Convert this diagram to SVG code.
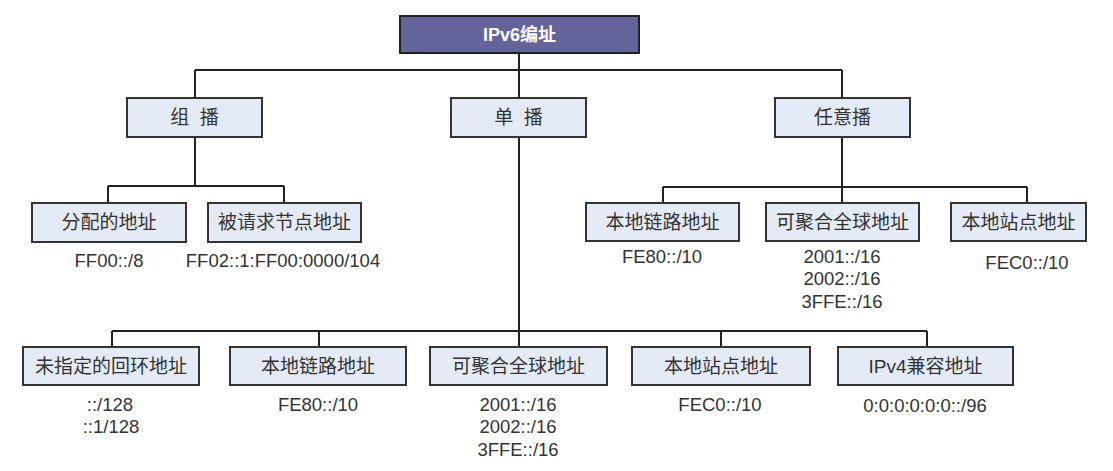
<svg xmlns="http://www.w3.org/2000/svg" width="1113" height="471" viewBox="0 0 1113 471">
<style>
.bg{fill:#ffffff}
.box{fill:#e5ebf6;stroke:#333333;stroke-width:2}
.root{fill:#64649a;stroke:#222222;stroke-width:2}
.lbl{font-family:"Liberation Sans","Noto Sans CJK SC",sans-serif;font-size:19px;fill:#333333;text-anchor:middle}
.rl{font-family:"Liberation Sans","Noto Sans CJK SC",sans-serif;font-size:18px;font-weight:bold;fill:#ffffff;text-anchor:middle}
.addr{font-family:"Liberation Sans","Noto Sans CJK SC",sans-serif;font-size:18.5px;fill:#333333;text-anchor:middle}
.ln{fill:none;stroke:#222222;stroke-width:2}
</style>
<rect class="bg" x="0" y="0" width="1113" height="471"/>
<g id="connectors">
<path class="ln" d="M519 53V70M195 70H842M195 70V98M519 70V98M842 70V98"/>
<path class="ln" d="M195 137V186M108 186H284M108 186V203M284 186V203"/>
<path class="ln" d="M842 137V187M663 187H1027M663 187V203M842 187V203M1027 187V203"/>
<path class="ln" d="M519 137V347M112 331H927M112 331V347M319 331V347M721 331V347M927 331V347"/>
</g>
<g id="root"><rect class="root" x="400" y="16" width="239" height="37"/><text class="rl" x="519.5" y="41">IPv6编址</text></g>
<g id="multicast"><rect class="box" x="127" y="98" width="135" height="39"/><text class="lbl" x="194.5" y="124" word-spacing="5">组 播</text></g>
<g id="unicast"><rect class="box" x="451" y="98" width="135" height="39"/><text class="lbl" x="518.5" y="124" word-spacing="5">单 播</text></g>
<g id="anycast"><rect class="box" x="775" y="98" width="135" height="39"/><text class="lbl" x="842.5" y="124">任意播</text></g>
<g id="mc-assigned"><rect class="box" x="32" y="203" width="154" height="39"/><text class="lbl" x="109" y="229">分配的地址</text><text class="addr" x="109" y="267">FF00::/8</text></g>
<g id="mc-solicited"><rect class="box" x="208" y="203" width="153" height="39"/><text class="lbl" x="284.5" y="229">被请求节点地址</text><text class="addr" x="283" y="267">FF02::1:FF00:0000/104</text></g>
<g id="ac-linklocal"><rect class="box" x="586" y="203" width="153" height="38"/><text class="lbl" x="662.5" y="228.5">本地链路地址</text><text class="addr" x="662" y="263">FE80::/10</text></g>
<g id="ac-global"><rect class="box" x="766" y="203" width="153" height="38"/><text class="lbl" x="842.5" y="228.5">可聚合全球地址</text><text class="addr" x="842" y="263">2001::/16</text><text class="addr" x="842" y="285">2002::/16</text><text class="addr" x="842" y="308">3FFE::/16</text></g>
<g id="ac-sitelocal"><rect class="box" x="951" y="203" width="135" height="38"/><text class="lbl" x="1018.5" y="228.5">本地站点地址</text><text class="addr" x="1027" y="269">FEC0::/10</text></g>
<g id="uc-unspec"><rect class="box" x="23" y="347" width="176" height="38"/><text class="lbl" x="111" y="372.5">未指定的回环地址</text><text class="addr" x="110" y="411">::/128</text><text class="addr" x="111" y="433">::1/128</text></g>
<g id="uc-linklocal"><rect class="box" x="230" y="347" width="176" height="38"/><text class="lbl" x="318" y="372.5">本地链路地址</text><text class="addr" x="318" y="411">FE80::/10</text></g>
<g id="uc-global"><rect class="box" x="430" y="347" width="177" height="38"/><text class="lbl" x="518.5" y="372.5">可聚合全球地址</text><text class="addr" x="518" y="411">2001::/16</text><text class="addr" x="518" y="433">2002::/16</text><text class="addr" x="518" y="456">3FFE::/16</text></g>
<g id="uc-sitelocal"><rect class="box" x="632" y="347" width="178" height="38"/><text class="lbl" x="721" y="372.5">本地站点地址</text><text class="addr" x="720" y="411">FEC0::/10</text></g>
<g id="uc-ipv4"><rect class="box" x="838" y="347" width="175" height="38"/><text class="lbl" x="925.5" y="372.5">IPv4兼容地址</text><text class="addr" x="925" y="412">0:0:0:0:0:0::/96</text></g>
</svg>
